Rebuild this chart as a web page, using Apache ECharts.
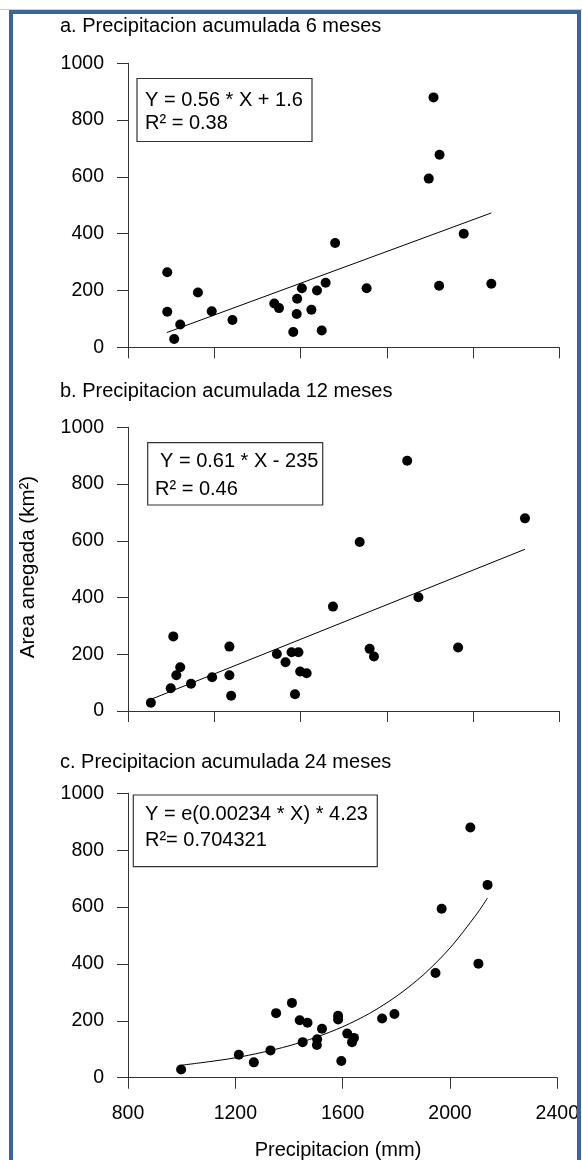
<!DOCTYPE html>
<html>
<head>
<meta charset="utf-8">
<script src="https://cdn.jsdelivr.net/npm/echarts@6/dist/echarts.min.js"></script>
<style>
html,body{margin:0;padding:0;background:#fff;}
#chart{width:582px;height:1160px;}
</style>
</head>
<body>
<div id="chart"></div>
<script>
// ---- Data ----
var titles = ['a. Precipitacion acumulada 6 meses', 'b. Precipitacion acumulada 12 meses', 'c. Precipitacion acumulada 24 meses'];
var equations = ['Y = 0.56 * X + 1.6', 'Y = 0.61 * X - 235', 'Y = e(0.00234 * X) * 4.23'];
var r2Labels = ['R\u00b2 = 0.38', 'R\u00b2 = 0.46', 'R\u00b2= 0.704321'];
var yTicks = [0, 200, 400, 600, 800, 1000];
var xTicksC = [800, 1200, 1600, 2000, 2400];

// Panel a: 6-month precipitation (x) vs flooded area (y)
var precip6 = [91, 91, 107, 121, 162, 194, 242, 339, 350, 383, 391, 392, 403, 425, 438, 449, 458, 480, 553, 697, 708, 722, 721, 778, 842];
var area6   = [264, 125, 29, 80, 193, 127, 96, 154, 138, 54, 117, 171, 208, 132, 200, 59, 227, 367, 208, 594, 880, 678, 217, 400, 224];
var fit6X = [90, 842];
var fit6Y = [52, 473];

// Panel b: 12-month
var precip12 = [453, 499, 505, 512, 521, 546, 595, 635, 635, 639, 745, 765, 779, 795, 787, 799, 814, 875, 937, 960, 970, 1047, 1073, 1165, 1320];
var area12   = [29, 80, 263, 126, 154, 96, 119, 227, 126, 54, 201, 172, 207, 207, 59, 139, 133, 368, 596, 219, 192, 882, 401, 224, 679];
var fit12X = [453, 1320];
var fit12Y = [41, 570];

// Panel c: 24-month
var precip24 = [998, 1213, 1269, 1331, 1352, 1411, 1440, 1451, 1469, 1504, 1505, 1523, 1583, 1583, 1595, 1617, 1635, 1642, 1747, 1793, 1946, 1969, 2076, 2106, 2140];
var area24   = [29, 81, 54, 96, 227, 263, 202, 125, 193, 115, 135, 172, 218, 205, 59, 155, 125, 140, 208, 224, 368, 594, 880, 401, 678];
var fit24X = [1000, 1100, 1200, 1300, 1400, 1500, 1600, 1700, 1800, 1900, 2000, 2100, 2140];
var fit24Y = [44, 56, 70, 89, 112, 142, 179, 226, 286, 361, 456, 576, 632];

function zip(a, b) { return a.map(function (v, i) { return [v, b[i]]; }); }

var FONT = '"Liberation Sans", Arial, sans-serif';
var AXIS_COLOR = '#333';

var grids = [
  { left: 128, width: 431.5, top: 63.3, height: 284 },
  { left: 128, width: 431.5, top: 427.3, height: 283.7 },
  { left: 128, width: 431.5, top: 793.3, height: 284.4 }
];
var xRanges = [[0, 1000, 200], [400, 1400, 200], [800, 2400, 400]];

var xAxes = xRanges.map(function (r, i) {
  return {
    type: 'value', gridIndex: i, min: r[0], max: r[1], interval: r[2],
    axisLine: { show: true, lineStyle: { color: AXIS_COLOR, width: 1 } },
    axisTick: { show: true, inside: false, length: 11, lineStyle: { color: AXIS_COLOR, width: 1 } },
    axisLabel: { show: i === 2, color: '#000', fontSize: 19.5, fontFamily: FONT, margin: 26,
      formatter: function (v) { return String(v); } },
    splitLine: { show: false }
  };
});
var yAxes = [0, 1, 2].map(function (i) {
  return {
    type: 'value', gridIndex: i, min: yTicks[0], max: yTicks[yTicks.length - 1], interval: 200,
    axisLine: { show: true, lineStyle: { color: AXIS_COLOR, width: 1 } },
    axisTick: { show: true, inside: false, length: 11, lineStyle: { color: AXIS_COLOR, width: 1 } },
    axisLabel: { color: '#000', fontSize: 19.5, fontFamily: FONT, margin: 24,
      formatter: function (v) { return String(v); } },
    splitLine: { show: false }
  };
});

var scatterData = [zip(precip6, area6), zip(precip12, area12), zip(precip24, area24)];
var fitData = [zip(fit6X, fit6Y), zip(fit12X, fit12Y), zip(fit24X, fit24Y)];

var series = [];
for (var i = 0; i < 3; i++) {
  series.push({
    type: 'line', xAxisIndex: i, yAxisIndex: i, data: fitData[i],
    showSymbol: false, smooth: i === 2 ? 0.3 : false, silent: true,
    lineStyle: { color: '#000', width: 1 }, z: 2
  });
  series.push({
    type: 'scatter', xAxisIndex: i, yAxisIndex: i, data: scatterData[i],
    symbol: 'circle', symbolSize: 10, itemStyle: { color: '#000', opacity: 1 }, z: 3
  });
}

function txt(x, y, s, size, extra) {
  var o = {
    type: 'text', x: x, y: y, z: 10,
    style: { text: s, fontSize: size, fontFamily: FONT, fill: '#000', textAlign: 'left', textVerticalAlign: 'middle' }
  };
  if (extra) { for (var k in extra) o[k] = extra[k]; }
  return o;
}
function box(x, y, w, h) {
  return { type: 'rect', z: 9, shape: { x: x, y: y, width: w, height: h },
    style: { fill: '#fff', stroke: '#333', lineWidth: 1.2 } };
}

var graphics = [
  { type: 'line', z: 1, shape: { x1: 0, y1: 9.5, x2: 582, y2: 9.5 }, style: { stroke: '#cfcfcf', lineWidth: 1 } },
  { type: 'rect', z: 1, shape: { x: 11, y: 12, width: 568, height: 1170 }, style: { fill: 'none', stroke: '#3b6497', lineWidth: 4 } },
  txt(60, 26, titles[0], 20),
  txt(60, 391.7, titles[1], 20),
  txt(60, 762.7, titles[2], 20),
  box(137, 78.5, 175, 63),
  txt(145, 100, equations[0], 20),
  txt(145, 123.3, r2Labels[0], 20),
  box(147.7, 442.7, 175, 62.3),
  txt(160, 461.7, equations[1], 20),
  txt(155, 489.3, r2Labels[1], 20),
  box(133.3, 795, 244, 71.7),
  txt(145, 814, equations[2], 20),
  txt(145, 840.7, r2Labels[2], 20),
  { type: 'text', x: 28, y: 567, rotation: Math.PI / 2, z: 10,
    style: { text: 'Area anegada (km\u00b2)', fontSize: 20.5, fontFamily: FONT, fill: '#000', textAlign: 'center', textVerticalAlign: 'middle' } },
  { type: 'text', x: 338, y: 1150, z: 10,
    style: { text: 'Precipitacion (mm)', fontSize: 20, fontFamily: FONT, fill: '#000', textAlign: 'center', textVerticalAlign: 'middle' } }
];

var chart = echarts.init(document.getElementById('chart'), null, { renderer: 'canvas' });
chart.setOption({
  animation: false,
  backgroundColor: '#fff',
  grid: grids,
  xAxis: xAxes,
  yAxis: yAxes,
  series: series,
  graphic: graphics
});
</script>
</body>
</html>
